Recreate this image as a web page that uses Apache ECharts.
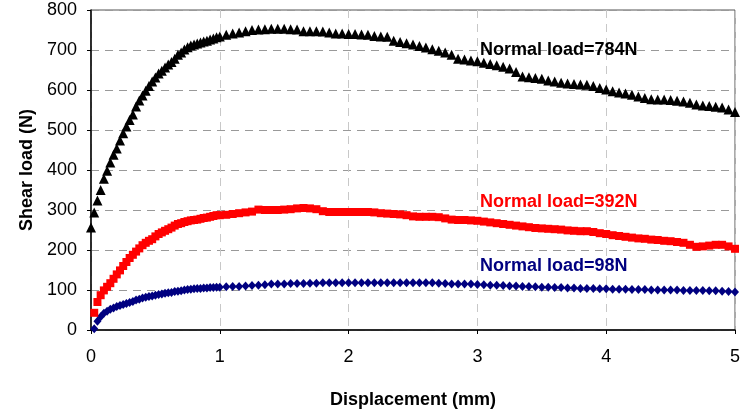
<!DOCTYPE html>
<html>
<head>
<meta charset="utf-8">
<script src="https://cdn.jsdelivr.net/npm/echarts@6/dist/echarts.min.js"></script>
<style>
html,body{margin:0;padding:0;background:#fff;}
#chart{width:744px;height:415px;}
</style>
</head>
<body>
<div id="chart"></div>
<script>
// Displacement (mm)
const displacement = [
  0,0.025,0.05,0.075,0.1,0.125,0.15,0.175,0.2,0.225,
  0.25,0.275,0.3,0.325,0.35,0.375,0.4,0.425,0.45,0.475,
  0.5,0.525,0.55,0.575,0.6,0.625,0.65,0.675,0.7,0.725,
  0.75,0.775,0.8,0.825,0.85,0.875,0.9,0.925,0.95,0.975,
  1,1.05,1.1,1.15,1.2,1.25,1.3,1.35,1.4,1.45,
  1.5,1.55,1.6,1.65,1.7,1.75,1.8,1.85,1.9,1.95,
  2,2.05,2.1,2.15,2.2,2.25,2.3,2.35,2.4,2.45,
  2.5,2.55,2.6,2.65,2.7,2.75,2.8,2.85,2.9,2.95,
  3,3.05,3.1,3.15,3.2,3.25,3.3,3.35,3.4,3.45,
  3.5,3.55,3.6,3.65,3.7,3.75,3.8,3.85,3.9,3.95,
  4,4.05,4.1,4.15,4.2,4.25,4.3,4.35,4.4,4.45,
  4.5,4.55,4.6,4.65,4.7,4.75,4.8,4.85,4.9,4.95,
  5
];
// Shear load (N), normal load = 784 N
const load784 = [
  256,294,324,350,378,398,419,438,454,474,
  492,509,525,539,559,574,586,598,610,621,
  631,641,648,656,664,670,678,688,694,701,
  707,711,714,716,719,721,723,726,729,732,
  734,738,741,744,747,750,751,752,753,753,
  753,752,751,747,747,747,746,744,741,741,
  740,740,739,738,735,734,733,723,720,717,
  714,710,706,702,698,694,688,678,676,674,
  672,668,665,662,658,654,645,634,632,630,
  628,624,621,618,616,615,614,613,610,605,
  601,597,594,591,588,584,580,577,576,576,
  575,573,571,568,564,561,560,558,556,551,
  545
];
// Shear load (N), normal load = 392 N
const load392 = [
  null,43,70,87,99,108,117,128,139,149,
  160,170,180,188,196,204,212,218,223,227,
  234,240,244,248,252,256,261,265,267,270,
  272,274,275,276,278,280,281,283,285,287,
  287,288,290,292,294,296,301,300,300,300,
  301,302,304,305,304,302,297,295,295,295,
  295,295,295,295,294,292,291,290,289,287,
  284,283,283,283,282,279,276,275,275,274,
  273,271,269,267,265,263,261,259,257,255,
  254,253,252,251,249,248,247,247,245,242,
  240,237,235,233,231,229,228,226,225,223,
  222,220,218,213,208,209,211,213,213,209,
  203
];
// Shear load (N), normal load = 98 N
const load98 = [
  null,3,22,33,42,47,52,55,59,61,
  64,66,69,71,75,77,80,82,84,85,
  87,89,90,92,93,94,96,97,98,100,
  101,102,103,104,104,105,105,106,106,107,
  107,108,109,109,110,111,112,113,115,115,
  115,116,116,116,117,117,118,118,118,118,
  118,118,118,118,118,118,118,118,118,118,
  118,118,118,118,117,116,115,115,115,115,
  114,113,112,112,111,110,110,109,109,108,
  107,107,106,106,105,105,104,104,104,103,
  103,102,102,102,101,101,101,100,100,100,
  100,100,99,99,99,99,98,98,97,96,
  95
];
const seriesNames = ['Normal load=784N', 'Normal load=392N', 'Normal load=98N'];
const xTicks = [0, 1, 2, 3, 4, 5];
const yTicks = [0, 100, 200, 300, 400, 500, 600, 700, 800];
// label anchors in data units (displacement, load)
const labelAnchors = [[3.02, 701], [3.02, 319], [3.02, 161]];

const colors = ['#000000', '#ff0000', '#000080'];
const symbols = ['triangle', 'rect', 'diamond'];
const symbolSizes = [[10, 10], [8, 8], [8, 9]];
const values = [load784, load392, load98];
const FONT = '"Liberation Sans", Arial, sans-serif';

const chart = echarts.init(document.getElementById('chart'), null, {renderer: 'canvas'});

const series = values.map((vals, i) => ({
  name: seriesNames[i],
  type: 'scatter',
  symbol: symbols[i],
  symbolSize: symbolSizes[i],
  itemStyle: {color: colors[i], opacity: 1},
  z: 5 - i,
  animation: false,
  data: displacement.map((d, k) => vals[k] == null ? null : [d, vals[k]]).filter(p => p),
  markPoint: {
    symbol: 'circle',
    symbolSize: 0,
    animation: false,
    label: {
      show: true,
      position: 'right',
      distance: 0,
      formatter: seriesNames[i],
      color: colors[i],
      fontFamily: FONT,
      fontWeight: 'bold',
      fontSize: 18
    },
    data: [{coord: labelAnchors[i]}]
  }
}));

chart.setOption({
  backgroundColor: '#ffffff',
  animation: false,
  grid: {
    left: 91, right: 9, top: 10, bottom: 85,
    show: true, borderColor: '#555', borderWidth: 1, backgroundColor: 'transparent'
  },
  xAxis: {
    type: 'value',
    min: xTicks[0], max: xTicks[xTicks.length - 1], interval: 1,
    name: 'Displacement (mm)',
    nameLocation: 'middle',
    nameGap: 61,
    nameTextStyle: {fontFamily: FONT, fontWeight: 'bold', fontSize: 18, color: '#000'},
    axisLine: {show: true, onZero: false, lineStyle: {color: '#000', width: 1.5}},
    axisTick: {show: true, length: 4, lineStyle: {color: '#000'}},
    axisLabel: {fontFamily: FONT, fontSize: 18, color: '#000', margin: 18},
    splitLine: {show: true, lineStyle: {color: '#c8c8c8', type: [8, 6], width: 1}}
  },
  yAxis: {
    type: 'value',
    min: yTicks[0], max: yTicks[yTicks.length - 1], interval: 100,
    name: 'Shear load (N)',
    nameLocation: 'middle',
    nameGap: 52,
    nameTextStyle: {fontFamily: FONT, fontWeight: 'bold', fontSize: 18, color: '#000'},
    axisLine: {show: true, onZero: false, lineStyle: {color: '#000', width: 1.5}},
    axisTick: {show: true, length: 4, lineStyle: {color: '#000'}},
    axisLabel: {fontFamily: FONT, fontSize: 18, color: '#000', margin: 14},
    splitLine: {show: true, lineStyle: {color: '#999', type: [8, 6], width: 1}}
  },
  series: series
});
</script>
</body>
</html>
